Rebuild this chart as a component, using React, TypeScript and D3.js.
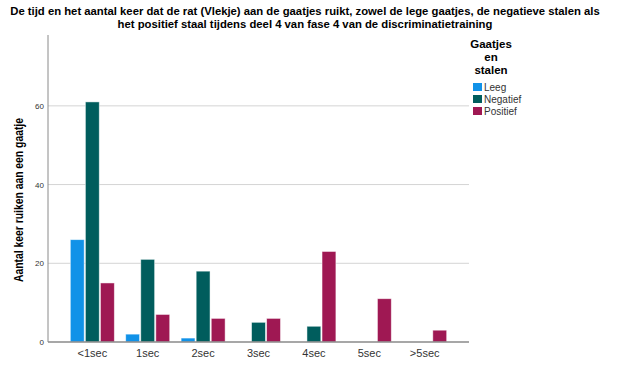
import React, { useEffect, useRef } from 'react'
import * as d3 from 'd3'

const categories = ['<1sec', '1sec', '2sec', '3sec', '4sec', '5sec', '>5sec']
const seriesNames = ['Leeg', 'Negatief', 'Positief']
const leeg = [26, 2, 1, 0, 0, 0, 0]
const negatief = [61, 21, 18, 5, 4, 0, 0]
const positief = [15, 7, 6, 6, 23, 11, 3]
const colors = ['#1192e8', '#005d5d', '#9f1853']
const yTicks = [0, 20, 40, 60]

const titleLines = [
  'De tijd en het aantal keer dat de rat (Vlekje) aan de gaatjes ruikt, zowel de lege gaatjes, de negatieve stalen als',
  'het positief staal tijdens deel 4 van fase 4 van de discriminatietraining',
]

export default function App() {
  const ref = useRef<SVGSVGElement>(null)

  useEffect(() => {
    const svg = d3.select(ref.current)
    svg.selectAll('*').remove()
    const font = 'Arial, "Liberation Sans", sans-serif'
    const left = 48, right = 469, top = 35, bottom = 342

    const x = d3.scaleBand().domain(categories).range([left, right]).paddingOuter(0.3)
    const x1 = d3.scaleBand().domain(seriesNames).range([0, 44]).paddingInner(0.08)
    const y = d3.scaleLinear().domain([0, 78]).range([bottom, top])

    // title
    svg.append('g').selectAll('text').data(titleLines).enter().append('text')
      .attr('x', 305).attr('y', (d, i) => 15 + i * 12.5)
      .attr('text-anchor', 'middle')
      .style('font-family', font).style('font-size', '11.3px').style('font-weight', 'bold')
      .text(d => d)

    // grid
    svg.append('g').selectAll('line').data(yTicks.filter(t => t > 0)).enter().append('line')
      .attr('x1', left).attr('x2', right)
      .attr('y1', d => y(d)).attr('y2', d => y(d))
      .attr('stroke', '#d4d4d4').attr('stroke-width', 1)

    // y tick labels
    svg.append('g').selectAll('text').data(yTicks).enter().append('text')
      .attr('x', 44).attr('y', d => y(d) + 3)
      .attr('text-anchor', 'end')
      .style('font-family', font).style('font-size', '8px').style('fill', '#333')
      .text(d => d)

    // bars
    const data = [leeg, negatief, positief]
    const g = svg.append('g')
    categories.forEach((c, ci) => {
      const cx = (x(c) as number) + x.bandwidth() / 2 - 22
      seriesNames.forEach((s, si) => {
        const v = data[si][ci]
        if (v <= 0) return
        g.append('rect')
          .attr('x', cx + (x1(s) as number))
          .attr('y', y(v))
          .attr('width', x1.bandwidth())
          .attr('height', bottom - y(v))
          .attr('fill', colors[si])
          .attr('stroke', '#ffffff').attr('stroke-opacity', 0.6).attr('stroke-width', 0.8)
      })
    })

    // axes lines
    svg.append('line').attr('x1', left).attr('x2', left).attr('y1', top).attr('y2', bottom)
      .attr('stroke', '#8a8a8a').attr('stroke-width', 1)
    svg.append('line').attr('x1', left).attr('x2', right).attr('y1', bottom).attr('y2', bottom)
      .attr('stroke', '#8a8a8a').attr('stroke-width', 1.5)

    // x labels
    svg.append('g').selectAll('text').data(categories).enter().append('text')
      .attr('x', d => (x(d) as number) + x.bandwidth() / 2)
      .attr('y', 357)
      .attr('text-anchor', 'middle')
      .style('font-family', font).style('font-size', '11px').style('fill', '#333')
      .text(d => d)

    // y axis title
    svg.append('text')
      .attr('transform', 'translate(23,200) rotate(-90)')
      .attr('text-anchor', 'middle')
      .attr('textLength', 164).attr('lengthAdjust', 'spacingAndGlyphs')
      .style('font-family', font).style('font-size', '12px').style('font-weight', 'bold')
      .text('Aantal keer ruiken aan een gaatje')

    // legend
    const legendTitle = ['Gaatjes', 'en', 'stalen']
    svg.append('g').selectAll('text').data(legendTitle).enter().append('text')
      .attr('x', 491).attr('y', (d, i) => 48 + i * 13)
      .attr('text-anchor', 'middle')
      .style('font-family', font).style('font-size', '11.5px').style('font-weight', 'bold')
      .text(d => d)
    const lg = svg.append('g').selectAll('g').data(seriesNames).enter().append('g')
      .attr('transform', (d, i) => `translate(473,${83 + i * 12})`)
    lg.append('rect').attr('width', 9).attr('height', 8).attr('fill', (d, i) => colors[i])
    lg.append('text').attr('x', 11).attr('y', 8)
      .style('font-family', font).style('font-size', '10px').style('fill', '#333')
      .text(d => d)
  }, [])

  return (
    <svg ref={ref} width={627} height={369}
      style={{ position: 'absolute', left: 0, top: 0, background: '#fff' }} />
  )
}
